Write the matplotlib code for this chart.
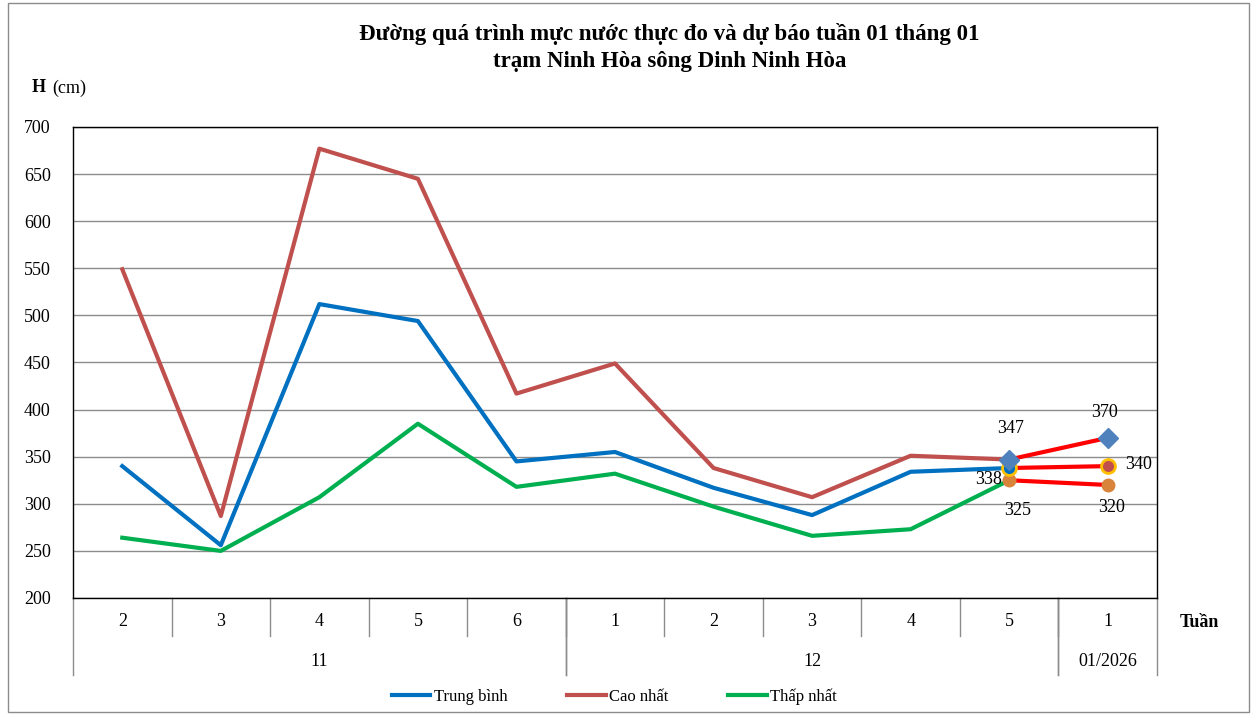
import matplotlib
matplotlib.use("Agg")
import matplotlib.pyplot as plt
from matplotlib.lines import Line2D
from matplotlib.patches import Rectangle
from matplotlib.transforms import blended_transform_factory

plt.rcParams["font.family"] = ["Liberation Serif", "DejaVu Serif"]

# ------------------------------------------------------------------ data
weeks = ["2", "3", "4", "5", "6", "1", "2", "3", "4", "5", "1"]
months = ["11", "12", "01/2026"]
month_span = [(0, 4), (5, 9), (10, 10)]

avg = [340, 256, 512, 494, 345, 355, 317, 288, 334, 338]
high = [549, 287, 677, 645, 417, 449, 338, 307, 351, 347]
low = [264, 250, 307, 385, 318, 332, 297, 266, 273, 325]

# forecast: last observed week -> forecast week
fc_high = [347, 370]
fc_avg = [338, 340]
fc_low = [325, 320]

C_AVG, C_HIGH, C_LOW = "#0070C0", "#C0504D", "#00B050"

# ------------------------------------------------------------------ figure
fig = plt.figure(figsize=(12.54, 7.15), dpi=100)
ax = fig.add_axes([73 / 1254, 1 - 598 / 715, (1157 - 73) / 1254, (598 - 127) / 715])

xs = list(range(len(avg)))
ax.plot(xs, avg, color=C_AVG, lw=3, label="Trung bình", zorder=3)
ax.plot(xs, high, color=C_HIGH, lw=3, label="Cao nhất", zorder=3)
ax.plot(xs, low, color=C_LOW, lw=3, label="Thấp nhất", zorder=3)

fx = [9, 10]
ax.plot(fx, fc_high, color="#FF0000", lw=3, zorder=4)
ax.plot(fx, fc_avg, color="#FF0000", lw=3, zorder=4)
ax.plot(fx, fc_low, color="#FF0000", lw=3, zorder=4)
ax.plot(fx, fc_low, "o", color="#D9843B", ms=9, zorder=5)
ax.plot(fx[:1], fc_avg[:1], "o", mfc=C_AVG, mec="#FFC000", mew=2, ms=10, zorder=5)
ax.plot(fx[1:], fc_avg[1:], "o", mfc=C_HIGH, mec="#FFC000", mew=2, ms=10, zorder=5)
ax.plot(fx, fc_high, "D", color="#4F81BD", ms=10, zorder=6)

lbl = dict(fontsize=13, textcoords="offset points", ha="center", va="center")
ax.annotate(f"{fc_high[0]}", (fx[0], fc_high[0]), xytext=(1, 22), **lbl)
ax.annotate(f"{fc_high[1]}", (fx[1], fc_high[1]), xytext=(-2, 18), **lbl)
ax.annotate(f"{fc_avg[0]}", (fx[0], fc_avg[0]), xytext=(-15, -8), **lbl)
ax.annotate(f"{fc_avg[1]}", (fx[1], fc_avg[1]), xytext=(22, 1), **lbl)
ax.annotate(f"{fc_low[0]}", (fx[0], fc_low[0]), xytext=(6, -22), **lbl)
ax.annotate(f"{fc_low[1]}", (fx[1], fc_low[1]), xytext=(3, -16), **lbl)

ax.set_xlim(-0.5, len(weeks) - 0.5)
ax.set_ylim(200, 700)
ax.set_yticks(range(200, 701, 50))
ax.tick_params(axis="y", length=0, labelsize=13, pad=16)
ax.set_xticks([])
ax.grid(axis="y", color="#8C8C8C", lw=1)
ax.set_axisbelow(True)
for s in ax.spines.values():
    s.set_color("black")
    s.set_linewidth(1)

# two-level category axis
tx = blended_transform_factory(ax.transData, ax.transAxes)
for i, w in enumerate(weeks):
    ax.text(i, -0.049, w, transform=tx, ha="center", va="center", fontsize=13)
for i in range(1, len(weeks)):
    ax.add_line(Line2D([i - 0.5, i - 0.5], [0, -0.081], transform=tx,
                       color="#8C8C8C", lw=1, clip_on=False))
for m, (a, b) in zip(months, month_span):
    ax.text((a + b) / 2, -0.134, m, transform=tx, ha="center", va="center", fontsize=13)
    for edge in (a - 0.5, b + 0.5):
        ax.add_line(Line2D([edge, edge], [0, -0.163], transform=tx,
                           color="#8C8C8C", lw=1, clip_on=False))
ax.text(1.021, -0.051, "Tuần", transform=ax.transAxes, ha="left", va="center",
        fontsize=13, fontweight="bold")

# titles
fig.text(0.534, 0.952, "Đường quá trình mực nước thực đo và dự báo tuần 01 tháng 01",
         ha="center", va="center", fontsize=16.5, fontweight="bold")
fig.text(0.534, 0.914, "trạm Ninh Hòa sông Dinh Ninh Hòa",
         ha="center", va="center", fontsize=16.5, fontweight="bold")
fig.text(32 / 1254, 1 - 88 / 715, "H", ha="left", va="center", fontsize=13, fontweight="bold")
fig.text(52 / 1254, 1 - 88 / 715, "(cm)", ha="left", va="center", fontsize=13)

fig.legend(loc="center", bbox_to_anchor=(0.49, 1 - 697 / 715), ncol=3, frameon=False,
           fontsize=12, handlelength=2.3, columnspacing=3.6, handletextpad=0.2)

fig.add_artist(Rectangle((0.006, 0.004), 0.99, 0.992, transform=fig.transFigure,
                         fill=False, ec="#8C8C8C", lw=1))

fig.savefig("out.png", dpi=100)
